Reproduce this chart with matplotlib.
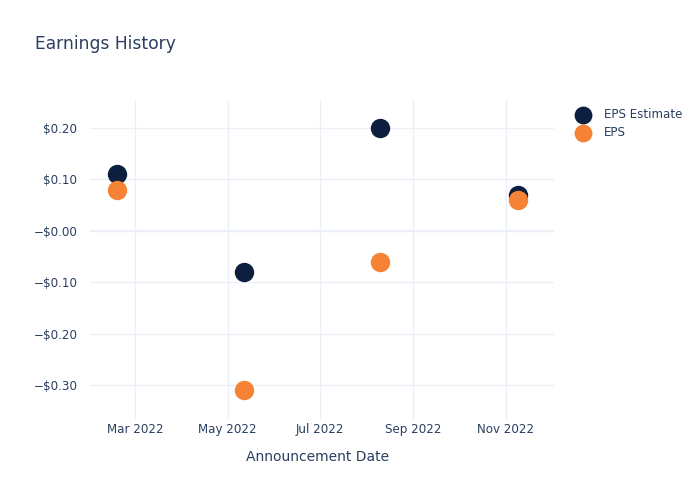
import matplotlib
matplotlib.use('Agg')
import matplotlib.pyplot as plt
import matplotlib.dates as mdates
import numpy as np
from datetime import datetime

dates = [datetime(2022, 2, 17), datetime(2022, 5, 12), datetime(2022, 8, 10), datetime(2022, 11, 9)]
eps_estimate = [0.11, -0.08, 0.20, 0.07]
eps_actual = [0.08, -0.31, -0.06, 0.06]
y_ticks = [-0.3, -0.2, -0.1, 0.0, 0.1, 0.2]
y_labels = ['\u2212$0.30', '\u2212$0.20', '\u2212$0.10', '\u2212$0.00', '$0.10', '$0.20']

text_color = '#2a3f5f'
grid_color = '#EBF0F8'
navy = '#0c1f3f'
orange = '#f58235'

plt.rcParams['font.family'] = ['DejaVu Sans']
fig = plt.figure(figsize=(7, 5), dpi=100)
ax = fig.add_axes([90 / 700, 80 / 500, 464 / 700, 320 / 500])

ax.scatter(dates, eps_estimate, s=195, color=navy, label='EPS Estimate', zorder=3, linewidths=0)
ax.scatter(dates, eps_actual, s=195, color=orange, label='EPS', zorder=4, linewidths=0)

ax.set_xlim(datetime(2022, 1, 30), datetime(2022, 12, 3))
ax.set_ylim(-0.368, 0.254)
ax.xaxis.set_major_locator(mdates.MonthLocator(bymonth=[3, 5, 7, 9, 11]))
ax.xaxis.set_major_formatter(mdates.DateFormatter('%b %Y'))
ax.set_yticks(y_ticks)
ax.set_yticklabels(y_labels)

ax.grid(True, color=grid_color, linewidth=1, zorder=0)
ax.axhline(0, color=grid_color, linewidth=1.5, zorder=1)
for s in ax.spines.values():
    s.set_visible(False)
ax.tick_params(axis='both', length=0, colors=text_color, labelsize=8.6)
ax.tick_params(axis='y', pad=9)
ax.tick_params(axis='x', pad=2)
ax.set_axisbelow(True)

ax.set_xlabel('Announcement Date', fontsize=10, color=text_color)
ax.xaxis.set_label_coords(0.49, -0.095)
fig.text(35 / 700, 1 - 44 / 500, 'Earnings History', fontsize=12.3, color=text_color, va='center', ha='left')

fig.legend(loc='upper left', bbox_to_anchor=(566 / 700, 1 - 103 / 500), frameon=False,
           fontsize=8.6, labelcolor=text_color, handletextpad=0.75, labelspacing=0.45,
           borderaxespad=0, markerscale=0.92)

fig.savefig('out.png', dpi=100, facecolor='white')
